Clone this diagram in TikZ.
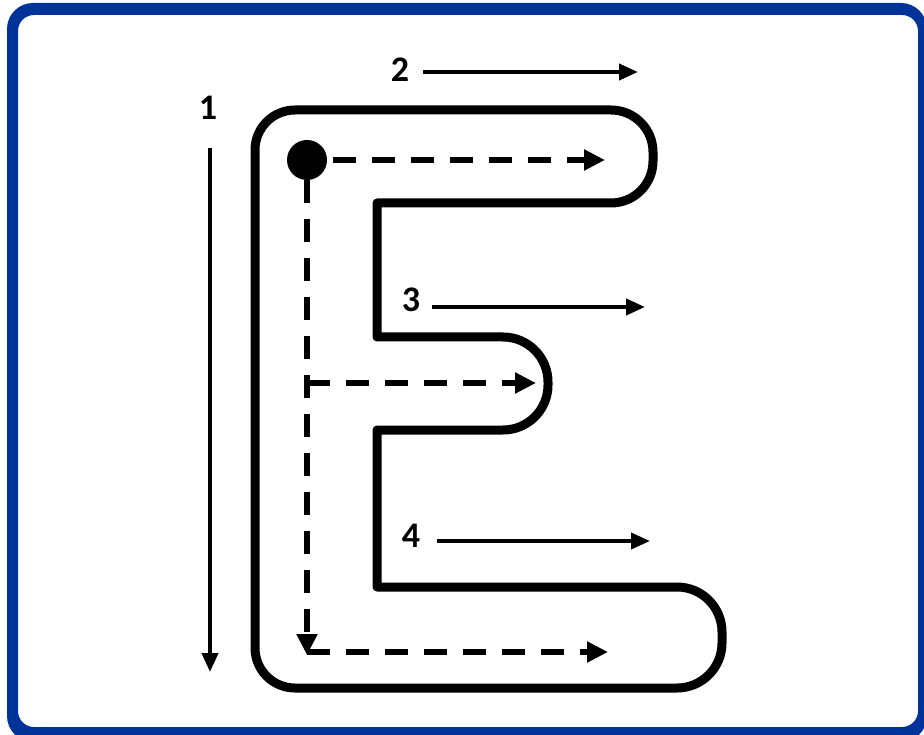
\documentclass[tikz,border=0pt]{standalone}
\usepackage{fontspec}
\setmainfont{Carlito}
\usetikzlibrary{arrows.meta}
\definecolor{frameBlue}{HTML}{003399}

\begin{document}
\begin{tikzpicture}[x=1pt, y=1pt,
    every node/.style={font=\bfseries\fontsize{36}{40}\selectfont, inner sep=0pt},
    eline/.style={line width=9pt, line join=round},
    guide/.style={line width=4pt, -{Triangle[length=19pt, width=16pt]}},
    trace/.style={line width=5.5pt, dash pattern=on 23pt off 16pt, -{Triangle[length=21pt, width=20pt]}}]
  \useasboundingbox (0,0) rectangle (924,-735);
  % frame
  \fill[frameBlue, even odd rule]
    (7,-3) [rounded corners=26pt] rectangle (927,-742)
    (18,-15) [rounded corners=16pt] rectangle (918,-727);
  % letter outline
  \draw[eline] (377,-203) -- (377,-337) -- (503,-337)
    arc[start angle=90, end angle=0, radius=45] -- (548,-385)
    arc[start angle=0, end angle=-90, radius=45] -- (377,-430)
    -- (377,-587) -- (677,-587)
    arc[start angle=90, end angle=0, radius=45] -- (722,-643)
    arc[start angle=0, end angle=-90, radius=45] -- (295,-688)
    arc[start angle=270, end angle=180, radius=40] -- (255,-150)
    arc[start angle=180, end angle=90, radius=40] -- (611,-110)
    arc[start angle=90, end angle=0, radius=42] -- (653,-161)
    arc[start angle=0, end angle=-90, radius=42] -- cycle;
  % start point and tracing path
  \node[circle, fill=black, minimum size=40pt] (start) at (307,-160) {};
  \coordinate (topend) at (605,-160);
  \coordinate (downend) at (307,-655);
  \coordinate (midstart) at (307,-383);
  \coordinate (midend) at (536,-383);
  \coordinate (lowstart) at (307,-652);
  \coordinate (lowend) at (608,-652);
  \draw[trace] (start.east) ++(6,0) -- (topend);
  \draw[trace] (start.south) -- (downend);
  \draw[trace] (midstart) -- (midend);
  \draw[trace] (lowstart) -- (lowend);
  % numbered strokes
  \node (n1) at (208,-108) {1};
  \node (n2) at (400,-70) {2};
  \node (n3) at (411,-300) {3};
  \node (n4) at (411,-536) {4};
  \coordinate (a1) at (210,-148);
  \coordinate (b1) at (210,-672);
  \coordinate (a2) at (423,-72);
  \coordinate (b2) at (638,-72);
  \coordinate (a3) at (432,-307);
  \coordinate (b3) at (645,-307);
  \coordinate (a4) at (437,-541);
  \coordinate (b4) at (650,-541);
  \draw[guide] (a1) -- (b1);
  \draw[guide] (a2) -- (b2);
  \draw[guide] (a3) -- (b3);
  \draw[guide] (a4) -- (b4);
\end{tikzpicture}
\end{document}
